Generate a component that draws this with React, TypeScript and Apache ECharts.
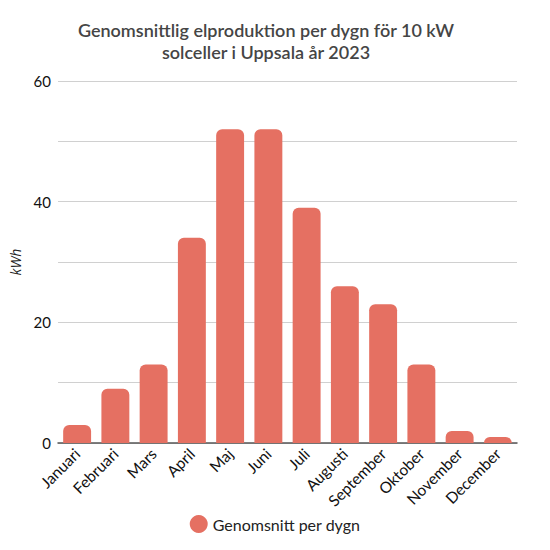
import React, { useEffect, useRef } from "react";
import * as echarts from "echarts";

const months = ["Januari", "Februari", "Mars", "April", "Maj", "Juni", "Juli", "Augusti", "September", "Oktober", "November", "December"];
const values = [3, 9, 13, 34, 52, 52, 39, 26, 23, 13, 2, 1];
const seriesName = "Genomsnitt per dygn";
const yTickLabels = [0, 20, 40, 60];

export default function App() {
  const ref = useRef<HTMLDivElement>(null);
  useEffect(() => {
    const chart = echarts.init(ref.current!, null, { renderer: "svg" });
    const font = "Lato, 'Noto Sans', sans-serif";
    chart.setOption({
      animation: false,
      textStyle: { fontFamily: font },
      title: {
        text: "Genomsnittlig elproduktion per dygn för 10 kW\nsolceller i Uppsala år 2023",
        left: 261,
        textAlign: "center",
        top: 14,
        textStyle: { fontSize: 18, fontWeight: 600, color: "#454545", lineHeight: 22, fontFamily: font },
      },
      legend: {
        bottom: 12,
        left: "center",
        icon: "circle",
        itemWidth: 18,
        itemHeight: 18,
        itemGap: 8,
        textStyle: { fontSize: 16, color: "#222", fontFamily: font },
        data: [seriesName],
      },
      grid: { left: 58, right: 33, top: 81, bottom: 107, containLabel: false },
      xAxis: {
        type: "category",
        data: months,
        axisLine: { show: true, lineStyle: { color: "#555", width: 1.5 } },
        axisTick: { show: false },
        axisLabel: { rotate: 45, fontSize: 15.5, color: "#111", margin: 8, interval: 0 },
      },
      yAxis: {
        type: "value",
        min: 0,
        max: 60,
        interval: 10,
        name: "kWh",
        nameLocation: "middle",
        nameGap: 14,
        nameTextStyle: { fontStyle: "italic", fontSize: 14, color: "#222", fontFamily: "'Open Sans', 'DejaVu Sans', sans-serif" },
        axisLabel: {
          fontSize: 15,
          color: "#111",
          margin: 7,
          formatter: (v: number) => (yTickLabels.includes(v) ? String(v) : ""),
        },
        splitLine: { lineStyle: { color: "#d0d0d0", width: 1 } },
      },
      series: [
        {
          name: seriesName,
          type: "bar",
          data: values,
          barCategoryGap: "27%",
          itemStyle: { color: "#e57062", borderRadius: [6, 6, 0, 0] },
        },
      ],
    });
    return () => chart.dispose();
  }, []);
  return <div ref={ref} style={{ width: 550, height: 550, position: "absolute", left: 0, top: 0 }} />;
}
